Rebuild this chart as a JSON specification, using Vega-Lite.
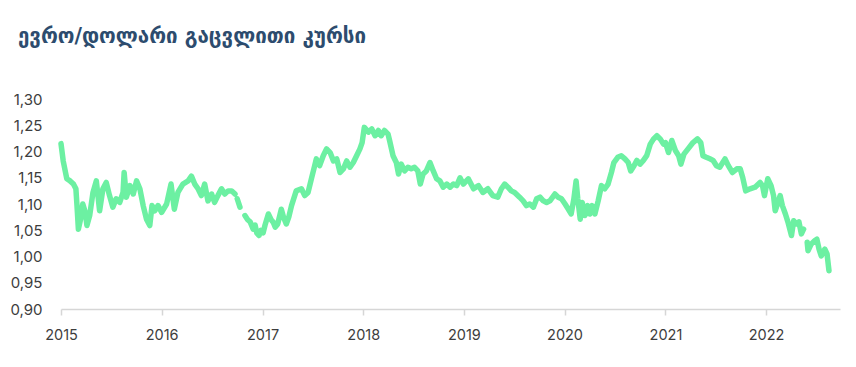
{
  "$schema": "https://vega.github.io/schema/vega-lite/v6.json",
  "autosize": "none",
  "width": 779,
  "height": 210,
  "padding": {"left": 61, "top": 99, "right": 16, "bottom": 58},
  "background": "white",
  "title": {
    "text": "ევრო/დოლარი გაცვლითი კურსი",
    "anchor": "start",
    "frame": "group",
    "orient": "top",
    "baseline": "alphabetic",
    "offset": 29,
    "dx": -43,
    "font": "DejaVu Sans",
    "fontSize": 20.5,
    "fontWeight": "bold",
    "color": "#2d4c6e"
  },
  "data": {"values": [
    {"date": "2015-01-01", "rate": 1.215}, {"date": "2015-01-09", "rate": 1.182}, {"date": "2015-01-22", "rate": 1.148},
    {"date": "2015-02-03", "rate": 1.144}, {"date": "2015-02-15", "rate": 1.138}, {"date": "2015-02-24", "rate": 1.129},
    {"date": "2015-02-28", "rate": 1.097}, {"date": "2015-03-05", "rate": 1.052}, {"date": "2015-03-13", "rate": 1.071},
    {"date": "2015-03-21", "rate": 1.100}, {"date": "2015-03-30", "rate": 1.084}, {"date": "2015-04-05", "rate": 1.059},
    {"date": "2015-04-15", "rate": 1.078}, {"date": "2015-04-27", "rate": 1.122}, {"date": "2015-05-09", "rate": 1.144},
    {"date": "2015-05-15", "rate": 1.116}, {"date": "2015-05-21", "rate": 1.087}, {"date": "2015-06-02", "rate": 1.129},
    {"date": "2015-06-14", "rate": 1.141}, {"date": "2015-06-26", "rate": 1.116}, {"date": "2015-07-08", "rate": 1.094},
    {"date": "2015-07-20", "rate": 1.110}, {"date": "2015-08-02", "rate": 1.103}, {"date": "2015-08-14", "rate": 1.122},
    {"date": "2015-08-18", "rate": 1.160}, {"date": "2015-08-26", "rate": 1.113}, {"date": "2015-09-08", "rate": 1.135},
    {"date": "2015-09-20", "rate": 1.119}, {"date": "2015-10-02", "rate": 1.144}, {"date": "2015-10-14", "rate": 1.129},
    {"date": "2015-10-26", "rate": 1.097}, {"date": "2015-11-07", "rate": 1.071}, {"date": "2015-11-19", "rate": 1.059},
    {"date": "2015-11-27", "rate": 1.097}, {"date": "2015-12-07", "rate": 1.087}, {"date": "2015-12-19", "rate": 1.097},
    {"date": "2016-01-01", "rate": 1.084}, {"date": "2016-01-19", "rate": 1.100}, {"date": "2016-02-04", "rate": 1.138},
    {"date": "2016-02-16", "rate": 1.090}, {"date": "2016-02-29", "rate": 1.122}, {"date": "2016-03-18", "rate": 1.138},
    {"date": "2016-04-06", "rate": 1.144}, {"date": "2016-04-18", "rate": 1.153}, {"date": "2016-04-30", "rate": 1.138},
    {"date": "2016-05-12", "rate": 1.129}, {"date": "2016-05-24", "rate": 1.116}, {"date": "2016-06-05", "rate": 1.138},
    {"date": "2016-06-17", "rate": 1.106}, {"date": "2016-06-30", "rate": 1.119}, {"date": "2016-07-11", "rate": 1.103},
    {"date": "2016-07-23", "rate": 1.116}, {"date": "2016-08-05", "rate": 1.129}, {"date": "2016-08-17", "rate": 1.119},
    {"date": "2016-08-29", "rate": 1.125}, {"date": "2016-09-11", "rate": 1.125}, {"date": "2016-09-23", "rate": 1.119},
    {"date": "2016-09-27", "rate": null}, {"date": "2016-10-01", "rate": 1.110}, {"date": "2016-10-11", "rate": 1.094},
    {"date": "2016-10-20", "rate": null}, {"date": "2016-10-29", "rate": 1.078}, {"date": "2016-11-08", "rate": 1.070},
    {"date": "2016-11-17", "rate": 1.066}, {"date": "2016-11-28", "rate": 1.052}, {"date": "2016-12-05", "rate": 1.060},
    {"date": "2016-12-11", "rate": 1.045}, {"date": "2016-12-19", "rate": 1.040}, {"date": "2016-12-26", "rate": 1.050},
    {"date": "2017-01-03", "rate": 1.045}, {"date": "2017-01-10", "rate": 1.060}, {"date": "2017-01-22", "rate": 1.081},
    {"date": "2017-02-01", "rate": 1.070}, {"date": "2017-02-09", "rate": 1.065}, {"date": "2017-02-16", "rate": 1.056},
    {"date": "2017-02-25", "rate": 1.062}, {"date": "2017-03-10", "rate": 1.090}, {"date": "2017-03-18", "rate": 1.075},
    {"date": "2017-03-28", "rate": 1.062}, {"date": "2017-04-06", "rate": 1.075}, {"date": "2017-04-16", "rate": 1.097},
    {"date": "2017-05-03", "rate": 1.125}, {"date": "2017-05-22", "rate": 1.129}, {"date": "2017-06-03", "rate": 1.116},
    {"date": "2017-06-15", "rate": 1.122}, {"date": "2017-06-27", "rate": 1.148}, {"date": "2017-07-09", "rate": 1.173},
    {"date": "2017-07-15", "rate": 1.186}, {"date": "2017-07-27", "rate": 1.173}, {"date": "2017-08-09", "rate": 1.192},
    {"date": "2017-08-21", "rate": 1.205}, {"date": "2017-09-03", "rate": 1.198}, {"date": "2017-09-15", "rate": 1.182},
    {"date": "2017-09-27", "rate": 1.186}, {"date": "2017-10-09", "rate": 1.160}, {"date": "2017-10-21", "rate": 1.167},
    {"date": "2017-11-02", "rate": 1.182}, {"date": "2017-11-14", "rate": 1.170}, {"date": "2017-11-26", "rate": 1.179},
    {"date": "2017-12-08", "rate": 1.192}, {"date": "2017-12-20", "rate": 1.205}, {"date": "2017-12-28", "rate": 1.217},
    {"date": "2018-01-05", "rate": 1.246}, {"date": "2018-01-20", "rate": 1.237}, {"date": "2018-02-01", "rate": 1.243},
    {"date": "2018-02-13", "rate": 1.230}, {"date": "2018-02-25", "rate": 1.240}, {"date": "2018-03-07", "rate": 1.230},
    {"date": "2018-03-19", "rate": 1.240}, {"date": "2018-04-01", "rate": 1.233}, {"date": "2018-04-07", "rate": 1.220},
    {"date": "2018-04-19", "rate": 1.192}, {"date": "2018-05-01", "rate": 1.179}, {"date": "2018-05-09", "rate": 1.157},
    {"date": "2018-05-19", "rate": 1.176}, {"date": "2018-05-31", "rate": 1.163}, {"date": "2018-06-12", "rate": 1.170},
    {"date": "2018-06-24", "rate": 1.167}, {"date": "2018-07-06", "rate": 1.170}, {"date": "2018-07-18", "rate": 1.163},
    {"date": "2018-07-27", "rate": 1.138}, {"date": "2018-08-06", "rate": 1.157}, {"date": "2018-08-18", "rate": 1.163},
    {"date": "2018-08-31", "rate": 1.179}, {"date": "2018-09-12", "rate": 1.163}, {"date": "2018-09-24", "rate": 1.148},
    {"date": "2018-10-06", "rate": 1.144}, {"date": "2018-10-18", "rate": 1.132}, {"date": "2018-10-31", "rate": 1.138},
    {"date": "2018-11-12", "rate": 1.132}, {"date": "2018-11-24", "rate": 1.138}, {"date": "2018-12-06", "rate": 1.135},
    {"date": "2018-12-18", "rate": 1.150}, {"date": "2018-12-30", "rate": 1.138},
    {"date": "2019-01-17", "rate": 1.148}, {"date": "2019-02-05", "rate": 1.129}, {"date": "2019-02-23", "rate": 1.135},
    {"date": "2019-03-11", "rate": 1.122}, {"date": "2019-03-29", "rate": 1.129}, {"date": "2019-04-16", "rate": 1.116},
    {"date": "2019-05-04", "rate": 1.113}, {"date": "2019-05-17", "rate": 1.129}, {"date": "2019-05-29", "rate": 1.138},
    {"date": "2019-06-10", "rate": 1.132}, {"date": "2019-06-22", "rate": 1.125}, {"date": "2019-07-04", "rate": 1.122},
    {"date": "2019-07-22", "rate": 1.113}, {"date": "2019-08-04", "rate": 1.106}, {"date": "2019-08-16", "rate": 1.097},
    {"date": "2019-08-28", "rate": 1.100}, {"date": "2019-09-10", "rate": 1.094}, {"date": "2019-09-22", "rate": 1.110},
    {"date": "2019-10-04", "rate": 1.113}, {"date": "2019-10-16", "rate": 1.106}, {"date": "2019-10-28", "rate": 1.103},
    {"date": "2019-11-09", "rate": 1.106}, {"date": "2019-11-27", "rate": 1.119}, {"date": "2019-12-09", "rate": 1.113},
    {"date": "2019-12-21", "rate": 1.110},
    {"date": "2020-01-03", "rate": 1.100}, {"date": "2020-01-15", "rate": 1.090}, {"date": "2020-01-25", "rate": 1.081},
    {"date": "2020-02-04", "rate": 1.110}, {"date": "2020-02-12", "rate": 1.144}, {"date": "2020-02-18", "rate": 1.110},
    {"date": "2020-02-27", "rate": 1.071}, {"date": "2020-03-05", "rate": 1.103}, {"date": "2020-03-15", "rate": 1.078},
    {"date": "2020-03-25", "rate": 1.097}, {"date": "2020-04-02", "rate": 1.081}, {"date": "2020-04-10", "rate": 1.097},
    {"date": "2020-04-20", "rate": 1.081}, {"date": "2020-05-02", "rate": 1.106}, {"date": "2020-05-14", "rate": 1.135},
    {"date": "2020-05-26", "rate": 1.129}, {"date": "2020-06-07", "rate": 1.138}, {"date": "2020-06-19", "rate": 1.160},
    {"date": "2020-06-28", "rate": 1.179}, {"date": "2020-07-12", "rate": 1.189}, {"date": "2020-07-25", "rate": 1.192},
    {"date": "2020-08-07", "rate": 1.186}, {"date": "2020-08-19", "rate": 1.179}, {"date": "2020-08-28", "rate": 1.163},
    {"date": "2020-09-09", "rate": 1.173}, {"date": "2020-09-19", "rate": 1.183}, {"date": "2020-10-01", "rate": 1.176},
    {"date": "2020-10-13", "rate": 1.183}, {"date": "2020-10-25", "rate": 1.192}, {"date": "2020-11-07", "rate": 1.214},
    {"date": "2020-11-19", "rate": 1.224}, {"date": "2020-12-01", "rate": 1.230}, {"date": "2020-12-13", "rate": 1.224},
    {"date": "2020-12-25", "rate": 1.214},
    {"date": "2021-01-01", "rate": 1.217}, {"date": "2021-01-12", "rate": 1.198}, {"date": "2021-01-24", "rate": 1.221},
    {"date": "2021-02-06", "rate": 1.202}, {"date": "2021-02-18", "rate": 1.192}, {"date": "2021-02-26", "rate": 1.176},
    {"date": "2021-03-09", "rate": 1.195}, {"date": "2021-03-24", "rate": 1.205}, {"date": "2021-04-11", "rate": 1.217},
    {"date": "2021-04-27", "rate": 1.224}, {"date": "2021-05-09", "rate": 1.217}, {"date": "2021-05-17", "rate": 1.192},
    {"date": "2021-05-29", "rate": 1.189}, {"date": "2021-06-11", "rate": 1.186}, {"date": "2021-06-23", "rate": 1.183},
    {"date": "2021-07-05", "rate": 1.173}, {"date": "2021-07-17", "rate": 1.170}, {"date": "2021-08-05", "rate": 1.186},
    {"date": "2021-08-17", "rate": 1.173}, {"date": "2021-09-01", "rate": 1.160}, {"date": "2021-09-17", "rate": 1.167},
    {"date": "2021-09-29", "rate": 1.167}, {"date": "2021-10-08", "rate": 1.151}, {"date": "2021-10-19", "rate": 1.125},
    {"date": "2021-11-04", "rate": 1.129}, {"date": "2021-11-22", "rate": 1.132}, {"date": "2021-12-10", "rate": 1.141},
    {"date": "2021-12-19", "rate": 1.135}, {"date": "2021-12-26", "rate": 1.116},
    {"date": "2022-01-07", "rate": 1.148}, {"date": "2022-01-19", "rate": 1.135}, {"date": "2022-01-28", "rate": 1.116},
    {"date": "2022-02-03", "rate": 1.087}, {"date": "2022-02-13", "rate": 1.103}, {"date": "2022-02-21", "rate": 1.116},
    {"date": "2022-03-01", "rate": 1.097}, {"date": "2022-03-12", "rate": 1.081}, {"date": "2022-03-21", "rate": 1.066},
    {"date": "2022-04-03", "rate": 1.040}, {"date": "2022-04-11", "rate": 1.068}, {"date": "2022-04-21", "rate": 1.062},
    {"date": "2022-04-30", "rate": 1.066}, {"date": "2022-05-09", "rate": 1.043}, {"date": "2022-05-17", "rate": 1.052},
    {"date": "2022-05-23", "rate": null}, {"date": "2022-05-30", "rate": 1.027}, {"date": "2022-06-02", "rate": 1.011},
    {"date": "2022-06-14", "rate": 1.024}, {"date": "2022-06-26", "rate": 1.030}, {"date": "2022-07-04", "rate": 1.033},
    {"date": "2022-07-12", "rate": 1.014}, {"date": "2022-07-20", "rate": 1.001}, {"date": "2022-08-02", "rate": 1.014},
    {"date": "2022-08-10", "rate": 1.005}, {"date": "2022-08-17", "rate": 0.973}
  ]},
  "mark": {"type": "line", "color": "#6cf0a2", "strokeWidth": 5.5, "strokeJoin": "round", "strokeCap": "round", "clip": false},
  "encoding": {
    "x": {
      "field": "date",
      "type": "temporal",
      "scale": {"domain": [{"year": 2015, "month": 1, "date": 1}, {"year": 2022, "month": 9, "date": 26}], "nice": false},
      "axis": {
        "title": null,
        "format": "%Y",
        "tickCount": {"interval": "year", "step": 1},
        "grid": false,
        "domainColor": "#d6d6d6",
        "domainWidth": 1.5,
        "tickColor": "#d6d6d6",
        "tickWidth": 1.5,
        "tickSize": 6,
        "labelFont": "Inter",
        "labelFontSize": 14.5,
        "labelColor": "#3d3d3d",
        "labelPadding": 13,
        "labelFlush": false
      }
    },
    "y": {
      "field": "rate",
      "type": "quantitative",
      "scale": {"domain": [0.9, 1.3], "nice": false, "zero": false},
      "axis": {
        "title": null,
        "values": [0.9, 0.95, 1.0, 1.05, 1.1, 1.15, 1.2, 1.25, 1.3],
        "labelExpr": "replace(format(datum.value, '.2f'), '.', ',')",
        "grid": false,
        "domain": false,
        "ticks": false,
        "labelFont": "Inter",
        "labelFontSize": 15,
        "labelColor": "#3d3d3d",
        "labelPadding": 19
      }
    }
  },
  "config": {"view": {"stroke": null}}
}
